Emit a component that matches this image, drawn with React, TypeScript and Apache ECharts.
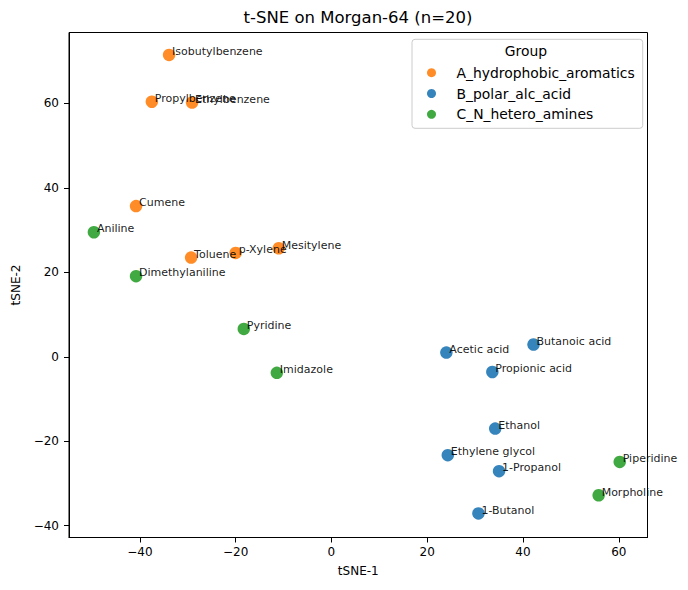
import React, { useEffect, useRef } from "react";
import * as echarts from "echarts";

const FONT = "'DejaVu Sans', sans-serif";

// Group A: hydrophobic aromatics
const aNames = ["Isobutylbenzene", "Propylbenzene", "Ethylbenzene", "Cumene", "Toluene", "p-Xylene", "Mesitylene"];
const aX = [-33.9, -37.5, -29.1, -40.8, -29.3, -20.0, -11.0];
const aY = [71.5, 60.4, 60.2, 35.7, 23.5, 24.6, 25.7];

// Group B: polar alcohols and acids
const bNames = ["Acetic acid", "Butanoic acid", "Propionic acid", "Ethanol", "Ethylene glycol", "1-Propanol", "1-Butanol"];
const bX = [24.0, 42.2, 33.6, 34.2, 24.3, 35.0, 30.7];
const bY = [1.0, 2.9, -3.6, -17.0, -23.3, -27.1, -37.1];

// Group C: N-heterocycles and amines
const cNames = ["Aniline", "Dimethylaniline", "Pyridine", "Imidazole", "Piperidine", "Morpholine"];
const cX = [-49.6, -40.8, -18.3, -11.4, 60.2, 55.8];
const cY = [29.5, 19.1, 6.6, -3.8, -24.9, -32.8];

const groupNames = ["A_hydrophobic_aromatics", "B_polar_alc_acid", "C_N_hetero_amines"];
const groupColors = ["#ff7f0e", "#1f77b4", "#2ca02c"];

const xTicks = [-40, -20, 0, 20, 40, 60];
const yTicks = [-40, -20, 0, 20, 40, 60];

const toPoints = (names: string[], xs: number[], ys: number[]) =>
  names.map((n, i) => ({ name: n, value: [xs[i], ys[i]] }));

export default function App() {
  const ref = useRef<HTMLDivElement>(null);

  useEffect(() => {
    if (!ref.current) return;
    const chart = echarts.init(ref.current, null, { renderer: "svg" });

    const groups = [
      toPoints(aNames, aX, aY),
      toPoints(bNames, bX, bY),
      toPoints(cNames, cX, cY),
    ];

    const axisCommon = {
      type: "value" as const,
      splitLine: { show: false },
      axisLine: { show: true, onZero: false, lineStyle: { color: "#000", width: 1 } },
      axisTick: { show: true, length: 5, lineStyle: { color: "#000", width: 1 } },
      nameLocation: "middle" as const,
      nameTextStyle: { fontFamily: FONT, fontSize: 12, color: "#000" },
    };

    const minusFmt = (v: number) => (v < 0 ? "\u2212" + Math.abs(v) : String(v));

    chart.setOption({
      animation: false,
      backgroundColor: "#fff",
      title: {
        text: "t-SNE on Morgan-64 (n=20)",
        left: 358,
        top: 9,
        padding: 0,
        textAlign: "center",
        textStyle: { fontFamily: FONT, fontSize: 16.5, fontWeight: "normal", color: "#000" },
      },
      grid: {
        left: 69,
        right: 40.5,
        top: 32.5,
        bottom: 52.5,
        show: true,
        borderColor: "#000",
        borderWidth: 1,
        backgroundColor: "transparent",
      },
      xAxis: {
        ...axisCommon,
        min: -54.8,
        max: 66.0,
        name: "tSNE-1",
        nameGap: 27,
        axisTick: { ...axisCommon.axisTick, customValues: xTicks },
        axisLabel: {
          customValues: xTicks,
          margin: 8,
          fontFamily: FONT,
          fontSize: 12,
          color: "#000",
          formatter: minusFmt,
        },
      },
      yAxis: {
        ...axisCommon,
        min: -42.8,
        max: 76.8,
        name: "tSNE-2",
        nameGap: 47,
        axisTick: { ...axisCommon.axisTick, customValues: yTicks },
        axisLabel: {
          customValues: yTicks,
          margin: 10,
          fontFamily: FONT,
          fontSize: 12,
          color: "#000",
          formatter: minusFmt,
        },
      },
      legend: {
        data: groupNames,
        orient: "vertical",
        left: 412,
        top: 39.3,
        padding: [26.4, 8, 7, 15],
        itemGap: 6.8,
        itemWidth: 9,
        itemHeight: 9,
        icon: "circle",
        borderColor: "#cccccc",
        borderWidth: 1,
        borderRadius: 3,
        backgroundColor: "rgba(255,255,255,0.8)",
        textStyle: {
          fontFamily: FONT,
          fontSize: 13.9,
          lineHeight: 14,
          color: "#000",
          padding: [0, 0, 0, 15.5],
        },
      },
      graphic: [
        {
          type: "text",
          x: 526,
          y: 51,
          z: 100,
          style: {
            text: "Group",
            fontFamily: FONT,
            fontSize: 13.9,
            fill: "#000",
            textAlign: "center",
            textVerticalAlign: "middle",
          },
        },
      ],
      series: groups.map((data, gi) => ({
        type: "scatter",
        name: groupNames[gi],
        data,
        symbol: "circle",
        symbolSize: 12.5,
        itemStyle: { color: groupColors[gi], opacity: 0.9 },
        label: {
          show: true,
          formatter: "{b}",
          position: [9.25, 3],
          align: "left",
          verticalAlign: "middle",
          fontFamily: FONT,
          fontSize: 11,
          color: "#000",
        },
        emphasis: { disabled: true },
        z: 2 + gi,
      })),
    });

    return () => chart.dispose();
  }, []);

  return (
    <div
      ref={ref}
      style={{ position: "fixed", left: 0, top: 0, width: 688, height: 590 }}
    />
  );
}
